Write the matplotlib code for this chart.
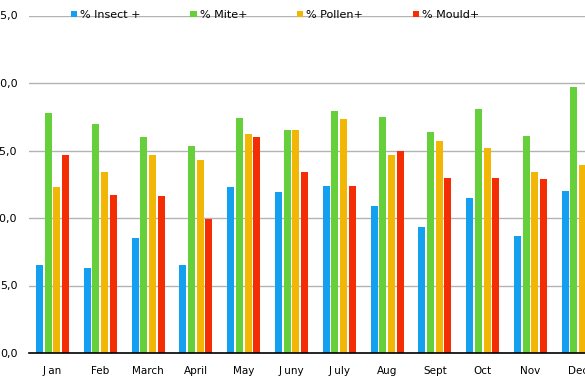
import matplotlib.pyplot as plt
import numpy as np

# Données mensuelles (%)
mois = ["J an", "Feb", "March", "April", "May", "J uny", "J uly",
        "Aug", "Sept", "Oct", "Nov", "Dec"]
insect = [6.5, 6.3, 8.5, 6.5, 12.3, 11.9, 12.4, 10.9, 9.3, 11.5, 8.7, 12.0]
mite = [17.8, 17.0, 16.0, 15.3, 17.4, 16.5, 17.9, 17.5, 16.4, 18.1, 16.1, 19.7]
pollen = [12.3, 13.4, 14.7, 14.3, 16.2, 16.5, 17.3, 14.7, 15.7, 15.2, 13.4, 13.9]
mould = [14.7, 11.7, 11.6, 9.9, 16.0, 13.4, 12.4, 15.0, 13.0, 13.0, 12.9, 13.0]

series = [("% Insect +", insect, "#14a0f0"),
          ("% Mite+", mite, "#66d03a"),
          ("% Pollen+", pollen, "#f2b705"),
          ("% Mould+", mould, "#f52d05")]
yticks = [0, 5, 10, 15, 20, 25]

fig = plt.figure(figsize=(5.85, 3.9), dpi=100)
ax = fig.add_axes([28.6 / 585, 37 / 390, 573.6 / 585, 337.5 / 390])

x = np.arange(len(mois))
pas = 0.182
larg = 0.148
for i, (nom, vals, coul) in enumerate(series):
    ax.bar(x + (i - 1.5) * pas, vals, width=larg, color=coul, label=nom, zorder=3)

ax.set_xlim(-0.5, 11.5)
ax.set_ylim(0, 25)
ax.set_yticks(yticks)
ax.set_yticklabels(["%d,0" % v for v in yticks], fontsize=8)
ax.set_xticks(x)
ax.set_xticklabels(mois, fontsize=7.5)
ax.tick_params(axis="both", length=0)
ax.tick_params(axis="y", pad=8)
ax.tick_params(axis="x", pad=9)
ax.yaxis.grid(True, color="#b3b3b3", linewidth=1)
for s in ["top", "right", "left"]:
    ax.spines[s].set_visible(False)
ax.spines["bottom"].set_color("black")
ax.spines["bottom"].set_linewidth(1.2)
ax.spines["bottom"].set_zorder(4)

fig.legend(loc="center left", bbox_to_anchor=(71 / 585, 1 - 15 / 390), ncol=4,
           frameon=False, fontsize=8, handlelength=0.55, handleheight=0.55,
           handletextpad=0.3, columnspacing=4.45, borderpad=0, borderaxespad=0)

fig.savefig("out.png", dpi=100)
